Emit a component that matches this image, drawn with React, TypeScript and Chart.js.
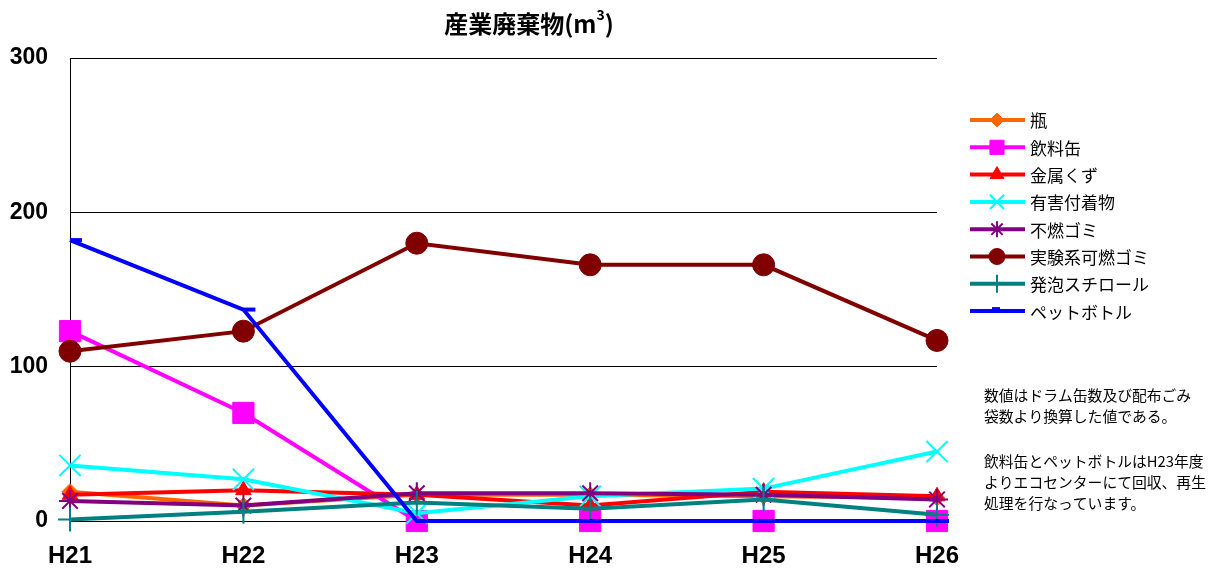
import React, { useEffect, useRef } from "react";
import { Chart, registerables } from "chart.js";
import { drawPoint } from "chart.js/helpers";

Chart.register(...registerables);

const categories = ["H21", "H22", "H23", "H24", "H25", "H26"];
const yTicks = [0, 100, 200, 300];

const seriesNames = [
  "瓶",
  "飲料缶",
  "金属くず",
  "有害付着物",
  "不燃ゴミ",
  "実験系可燃ゴミ",
  "発泡スチロール",
  "ペットボトル",
];

const bin = [19, 10, 17, 17, 16, 15];
const inryoKan = [123, 70, 0, 0, 0, 0];
const kinzoku = [17, 20, 17, 10, 19, 16];
const yugai = [36, 27, 5, 16, 21, 45];
const funen = [13, 10, 18, 18, 17, 14];
const kanen = [110, 123, 180, 166, 166, 117];
const happo = [1, 6, 12, 8, 14, 4];
const petBottle = [182, 137, 0, 0, 0, 0];

const seriesValues = [bin, inryoKan, kinzoku, yugai, funen, kanen, happo, petBottle];
const seriesColors = ["#FF6600", "#FF00FF", "#FF0000", "#00FFFF", "#800080", "#800000", "#008080", "#0000FF"];
const pointStyles = ["rectRot", "rect", "triangle", "crossRot", "star", "circle", "cross", "dash"];
const pointRadii = [8, 15, 9, 15, 11, 11, 12, 12];
const pointBorders = [1, 1, 1, 2, 2, 1, 2, 4];
const legendRadii = [7, 10, 8, 10, 8, 8, 9, 8];

const noteLines = [
  "数値はドラム缶数及び配布ごみ",
  "袋数より換算した値である。",
  "",
  "飲料缶とペットボトルはH23年度",
  "よりエコセンターにて回収、再生",
  "処理を行なっています。",
];

const CJK = '"Noto Sans CJK JP", "Noto Sans", sans-serif';
const NUM = '"Liberation Sans Narrow", "Liberation Sans", Arial, sans-serif';

const overlayPlugin = {
  id: "overlay",
  afterDraw(chart: any) {
    const ctx = chart.ctx;
    ctx.save();
    // title
    ctx.fillStyle = "#000";
    ctx.textBaseline = "middle";
    const mainT = "産業廃棄物(m";
    ctx.font = `bold 24px ${CJK}`;
    const w1 = ctx.measureText(mainT).width;
    ctx.font = `bold 14px ${CJK}`;
    const w2 = ctx.measureText("3").width;
    ctx.font = `bold 24px ${CJK}`;
    const w3 = ctx.measureText(")").width;
    let x = 529 - (w1 + w2 + w3) / 2;
    ctx.textAlign = "left";
    ctx.fillText(mainT, x, 24);
    x += w1;
    ctx.font = `bold 14px ${CJK}`;
    ctx.fillText("3", x, 15);
    x += w2;
    ctx.font = `bold 24px ${CJK}`;
    ctx.fillText(")", x, 24);

    // legend
    const ds = chart.data.datasets;
    for (let i = 0; i < ds.length; i++) {
      const y = 120 + i * 27.3;
      ctx.strokeStyle = seriesColors[i];
      ctx.lineWidth = 4;
      ctx.beginPath();
      ctx.moveTo(970, y);
      ctx.lineTo(1025, y);
      ctx.stroke();
      ctx.fillStyle = seriesColors[i];
      ctx.strokeStyle = seriesColors[i];
      ctx.lineWidth = pointBorders[i];
      drawPoint(
        ctx,
        { pointStyle: pointStyles[i], radius: legendRadii[i], rotation: 0, borderWidth: pointBorders[i] },
        pointStyles[i] === "dash" ? 992 : 997,
        pointStyles[i] === "dash" ? y - 2 : y
      );
      ctx.fillStyle = "#000";
      ctx.font = `17px ${CJK}`;
      ctx.textAlign = "left";
      ctx.textBaseline = "middle";
      ctx.fillText(seriesNames[i], 1030, y + 1);
    }

    // note
    ctx.font = `14.8px ${CJK}`;
    ctx.fillStyle = "#000";
    const noteYs = [395, 416, 438, 461, 482, 503];
    noteLines.forEach((t, i) => {
      if (t) ctx.fillText(t, 984, noteYs[i]);
    });
    ctx.restore();
  },
};

export default function App() {
  const ref = useRef<HTMLCanvasElement>(null);
  useEffect(() => {
    if (!ref.current) return;
    const n = seriesNames.length;
    const chart = new Chart(ref.current, {
      type: "line",
      data: {
        labels: categories,
        datasets: seriesNames.map((name, i) => ({
          label: name,
          data: seriesValues[i],
          borderColor: seriesColors[i],
          backgroundColor: seriesColors[i],
          borderWidth: 4,
          pointStyle: pointStyles[i] as any,
          pointRadius: pointRadii[i],
          pointBorderWidth: pointBorders[i],
          pointBackgroundColor: seriesColors[i],
          pointBorderColor: seriesColors[i],
          tension: 0,
          clip: false as any,
          order: n - 1 - i,
        })),
      },
      options: {
        animation: false,
        responsive: false,
        maintainAspectRatio: false,
        layout: { padding: { left: 0, right: 1216 - 937, top: 58, bottom: 0 } },
        plugins: {
          legend: { display: false },
          title: { display: false },
          tooltip: { enabled: false },
        },
        scales: {
          x: {
            type: "category",
            offset: false,
            grid: { display: false, drawTicks: false },
            border: { display: true, color: "#000", width: 1 },
            ticks: {
              color: "#000",
              padding: 21,
              maxRotation: 0,
              autoSkip: false,
              font: { family: NUM, size: 24, weight: "bold" },
            },
            afterFit: (s: any) => {
              s.height = 53;
            },
          },
          y: {
            min: 0,
            max: 300,
            afterBuildTicks: (s: any) => {
              s.ticks = yTicks.map((v) => ({ value: v }));
            },
            grid: { color: "#000", lineWidth: 1, drawTicks: false },
            border: { display: true, color: "#000", width: 1 },
            ticks: {
              color: "#000",
              padding: 22,
              font: { family: NUM, size: 23, weight: "bold" },
            },
            afterFit: (s: any) => {
              s.width = 70;
            },
          },
        },
      },
      plugins: [overlayPlugin],
    });
    return () => chart.destroy();
  }, []);
  return (
    <div style={{ position: "absolute", left: 0, top: 0, width: 1216, height: 574, background: "#fff" }}>
      <canvas ref={ref} width={1216} height={574} style={{ display: "block" }} />
    </div>
  );
}
